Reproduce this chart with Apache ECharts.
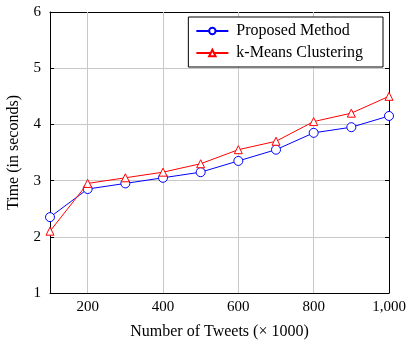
<!DOCTYPE html>
<html>
<head>
<meta charset="utf-8">
<script src="https://cdn.jsdelivr.net/npm/echarts@6/dist/echarts.min.js"></script>
<style>
  html, body { margin: 0; padding: 0; background: #fff; }
  #chart { width: 410px; height: 344px; }
</style>
</head>
<body>
<div id="chart"></div>
<script>
// 数据
var tweets = [100, 200, 300, 400, 500, 600, 700, 800, 900, 1000];
var proposed = [2.35, 2.85, 2.95, 3.05, 3.15, 3.35, 3.55, 3.85, 3.95, 4.15];
var kmeans = [2.1, 2.95, 3.05, 3.15, 3.3, 3.55, 3.7, 4.05, 4.2, 4.5];
var xTicks = [200, 400, 600, 800, 1000];

function pairs(ys) {
    return tweets.map(function (x, i) { return [x, ys[i]]; });
}
function fmt(v) {
    return v >= 1000 ? Math.floor(v / 1000) + ',' + ('00' + (v % 1000)).slice(-3) : String(v);
}

var font = '"Liberation Serif", "DejaVu Serif", serif';
var myChart = echarts.init(document.getElementById('chart'));

var option = {
    animation: false,
    textStyle: { fontFamily: font, color: '#000' },
    grid: { left: 50, right: 21, top: 12, bottom: 51, outerBoundsMode: 'none', containLabel: false },
    legend: {
        right: 27, top: 17,
        orient: 'vertical',
        backgroundColor: '#fff',
        borderColor: '#000',
        borderWidth: 1,
        borderRadius: 0,
        padding: [6, 20, 6, 7],
        itemGap: 6,
        itemWidth: 32,
        itemHeight: 8,
        textStyle: { fontFamily: font, fontSize: 16, color: '#000', padding: [0, 0, 0, 3] },
        data: ['Proposed Method', 'k-Means Clustering']
    },
    xAxis: [{
        type: 'value', min: 100, max: 1000,
        name: 'Number of Tweets (× 1000)',
        nameLocation: 'middle', nameGap: 31,
        nameTextStyle: { fontFamily: font, fontSize: 16, color: '#000' },
        axisLine: { show: true, lineStyle: { color: '#000' } },
        axisTick: { show: true, inside: true, length: 4, customValues: xTicks, lineStyle: { color: '#000' } },
        axisLabel: { customValues: xTicks, formatter: fmt, fontFamily: font, fontSize: 15, color: '#000', margin: 7 },
        splitLine: { show: false }
    }, {
        type: 'value', min: 100, max: 1000, position: 'top',
        axisLine: { show: true, lineStyle: { color: '#000' } },
        axisTick: { show: true, inside: true, length: 4, customValues: xTicks, lineStyle: { color: '#000' } },
        axisLabel: { show: false },
        splitLine: { show: false }
    }],
    yAxis: [{
        type: 'value', min: 1, max: 6, interval: 1,
        name: 'Time (in seconds)',
        nameLocation: 'middle', nameGap: 28,
        nameTextStyle: { fontFamily: font, fontSize: 16, color: '#000' },
        axisLine: { show: true, lineStyle: { color: '#000' } },
        axisTick: { show: true, inside: true, length: 4, lineStyle: { color: '#000' } },
        axisLabel: { fontFamily: font, fontSize: 15, color: '#000', margin: 9 },
        splitLine: { show: true, lineStyle: { color: '#c8c8c8', width: 1 } }
    }, {
        type: 'value', min: 1, max: 6, interval: 1, position: 'right',
        axisLine: { show: true, lineStyle: { color: '#000' } },
        axisTick: { show: true, inside: true, length: 4, lineStyle: { color: '#000' } },
        axisLabel: { show: false },
        splitLine: { show: false }
    }],
    series: [{
        name: 'Proposed Method',
        type: 'line',
        data: pairs(proposed),
        symbol: 'circle', symbolSize: 9,
        lineStyle: { color: '#0000ff', width: 1 },
        itemStyle: { color: '#fff', borderColor: '#0000ff', borderWidth: 1 },
        z: 3,
        markLine: {
            silent: true, symbol: 'none',
            label: { show: false },
            lineStyle: { color: '#c8c8c8', type: 'solid', width: 1 },
            data: xTicks.slice(0, 4).map(function (v) { return { xAxis: v }; }),
            z: 1
        }
    }, {
        name: 'k-Means Clustering',
        type: 'line',
        data: pairs(kmeans),
        symbol: 'triangle', symbolSize: 8,
        lineStyle: { color: '#ff0000', width: 1 },
        itemStyle: { color: '#fff', borderColor: '#ff0000', borderWidth: 1 },
        z: 4
    }]
};

myChart.setOption(option);
</script>
</body>
</html>
